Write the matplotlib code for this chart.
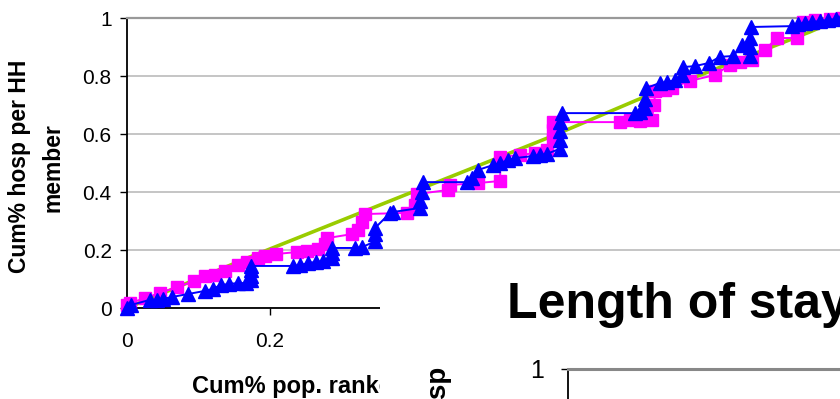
import matplotlib
matplotlib.use("Agg")
import matplotlib.pyplot as plt
from matplotlib.patches import Rectangle

plt.rcParams['font.family'] = ['Liberation Sans', 'DejaVu Sans']

# ---- data ----
green_x = [0.0, 0.172, 0.382, 0.592, 0.713, 0.955, 1.0]
green_y = [0.0, 0.176, 0.383, 0.590, 0.717, 0.952, 1.0]

pink_x = [0.0, 0.004, 0.025, 0.046, 0.070, 0.094, 0.109, 0.123, 0.137, 0.155, 0.168, 0.183,
          0.193, 0.208, 0.238, 0.252, 0.267, 0.277, 0.280, 0.315, 0.323, 0.329, 0.333, 0.392,
          0.403, 0.406, 0.449, 0.452, 0.491, 0.522, 0.522, 0.550, 0.571, 0.587, 0.596, 0.596,
          0.596, 0.690, 0.703, 0.717, 0.734, 0.737, 0.739, 0.752, 0.762, 0.787, 0.822, 0.843,
          0.857, 0.874, 0.892, 0.909, 0.937, 0.945, 0.962, 0.983, 1.0]
pink_y = [0.010, 0.017, 0.034, 0.052, 0.072, 0.093, 0.110, 0.114, 0.128, 0.148, 0.159, 0.172,
          0.179, 0.186, 0.193, 0.197, 0.203, 0.221, 0.241, 0.255, 0.269, 0.297, 0.324, 0.328,
          0.355, 0.393, 0.407, 0.424, 0.431, 0.438, 0.521, 0.528, 0.534, 0.545, 0.579, 0.614,
          0.641, 0.641, 0.648, 0.645, 0.648, 0.700, 0.748, 0.752, 0.759, 0.783, 0.803, 0.838,
          0.848, 0.855, 0.890, 0.931, 0.931, 0.986, 0.993, 0.997, 1.0]

blue_x = [0.0, 0.005, 0.032, 0.042, 0.050, 0.063, 0.085, 0.109, 0.120, 0.131, 0.143, 0.155,
          0.166, 0.173, 0.173, 0.173, 0.173, 0.232, 0.242, 0.253, 0.264, 0.274, 0.287, 0.287,
          0.287, 0.319, 0.329, 0.347, 0.347, 0.347, 0.368, 0.372, 0.410, 0.410, 0.412, 0.414,
          0.476, 0.483, 0.491, 0.512, 0.522, 0.533, 0.543, 0.568, 0.578, 0.587, 0.606, 0.606,
          0.606, 0.606, 0.608, 0.710, 0.717, 0.724, 0.724, 0.726, 0.745, 0.755, 0.766, 0.776,
          0.778, 0.794, 0.814, 0.829, 0.848, 0.860, 0.871, 0.871, 0.871, 0.873, 0.930, 0.938,
          0.948, 0.958, 0.969, 0.980, 0.992, 1.0]
blue_y = [0.0, 0.010, 0.028, 0.028, 0.031, 0.038, 0.048, 0.059, 0.066, 0.079, 0.083, 0.086,
          0.086, 0.095, 0.112, 0.130, 0.145, 0.145, 0.148, 0.155, 0.159, 0.162, 0.172, 0.190,
          0.207, 0.207, 0.210, 0.230, 0.255, 0.276, 0.328, 0.331, 0.345, 0.370, 0.400, 0.434,
          0.434, 0.448, 0.476, 0.493, 0.500, 0.510, 0.517, 0.524, 0.528, 0.531, 0.550, 0.580,
          0.610, 0.640, 0.672, 0.672, 0.676, 0.690, 0.720, 0.758, 0.776, 0.779, 0.786, 0.805,
          0.831, 0.834, 0.845, 0.866, 0.869, 0.907, 0.870, 0.900, 0.930, 0.969, 0.972, 0.979,
          0.983, 0.986, 0.990, 0.993, 0.997, 1.0]

yticks = [0, 0.2, 0.4, 0.6, 0.8, 1]
ytick_labels = ['0', '0.2', '0.4', '0.6', '0.8', '1']
xticks = [0, 0.2, 0.4, 0.6, 0.8, 1]
xtick_labels = ['0', '0.2', '0.4', '0.6', '0.8', '1']

W, H = 840, 399
fig = plt.figure(figsize=(W / 100, H / 100), dpi=100)
fig.patch.set_facecolor('white')

# main chart
ax = fig.add_axes([127 / W, (H - 308) / H, 715 / W, 290 / H])
ax.set_xlim(0, 1)
ax.set_ylim(0, 1)
ax.set_yticks(yticks)
ax.set_yticklabels(ytick_labels)
ax.set_xticks(xticks)
ax.set_xticklabels(xtick_labels)
ax.yaxis.grid(True, color='#C0C0C0', lw=1.3)
ax.set_axisbelow(True)
ax.spines['right'].set_visible(False)
ax.spines['top'].set_color('#999999')
ax.spines['top'].set_linewidth(1.6)
ax.spines['left'].set_color('black')
ax.spines['left'].set_linewidth(1.3)
ax.spines['bottom'].set_color('black')
ax.spines['bottom'].set_linewidth(1.3)
ax.tick_params(axis='y', length=5, width=1, pad=6, labelsize=15, direction='out')
ax.tick_params(axis='x', length=5, width=1, pad=12, labelsize=15, direction='out')

ax.plot(green_x, green_y, color='#99CC00', lw=2.6, zorder=2, clip_on=False)
ax.plot(pink_x, pink_y, color='#FF00FF', lw=1.4, marker='s', ms=9, mec='#FF00FF',
        mfc='#FF00FF', zorder=3, clip_on=False)
ax.plot(blue_x, blue_y, color='#0000FF', lw=1.4, marker='^', ms=10, mec='#0000FF',
        mfc='#0000FF', zorder=4, clip_on=False)

# axis titles
fig.text(20 / W, 1 - 166 / H, 'Cum% hosp per HH', rotation=90, ha='center', va='center',
         fontsize=16.5, fontweight='bold')
fig.text(53 / W, 1 - 168 / H, 'member', rotation=90, ha='center', va='center',
         fontsize=16.5, fontweight='bold')
fig.text(192 / W, 1 - 393 / H, 'Cum% pop. ranked', ha='left', va='baseline',
         fontsize=17, fontweight='bold')

# second chart overlapping the lower right
cover = Rectangle((380 / W, 0), (W - 380) / W, (H - 255) / H, transform=fig.transFigure,
                  facecolor='white', edgecolor='none', zorder=10)
fig.add_artist(cover)

ax2 = fig.add_axes([568 / W, (H - 369 - 260) / H, 400 / W, 260 / H])
ax2.set_zorder(11)
ax2.set_facecolor('white')
ax2.set_xlim(0, 1)
ax2.set_ylim(0, 1)
ax2.set_yticks(yticks)
ax2.set_yticklabels(ytick_labels)
ax2.set_xticks([])
ax2.spines['right'].set_visible(False)
ax2.spines['bottom'].set_visible(False)
ax2.spines['top'].set_color('#888888')
ax2.spines['top'].set_linewidth(2.2)
ax2.spines['left'].set_color('black')
ax2.spines['left'].set_linewidth(1.3)
ax2.tick_params(axis='y', length=5, width=1, pad=12, labelsize=18)

fig.text(507 / W, 1 - 318 / H, 'Length of stay', ha='left', va='baseline',
         fontsize=36, fontweight='bold', zorder=12)
fig.text(439 / W, 1 - 367 / H, 'Cum% hosp', rotation=90, ha='center', va='top',
         fontsize=20, fontweight='bold', zorder=12)

fig.savefig('out.png', dpi=100, facecolor='white')
